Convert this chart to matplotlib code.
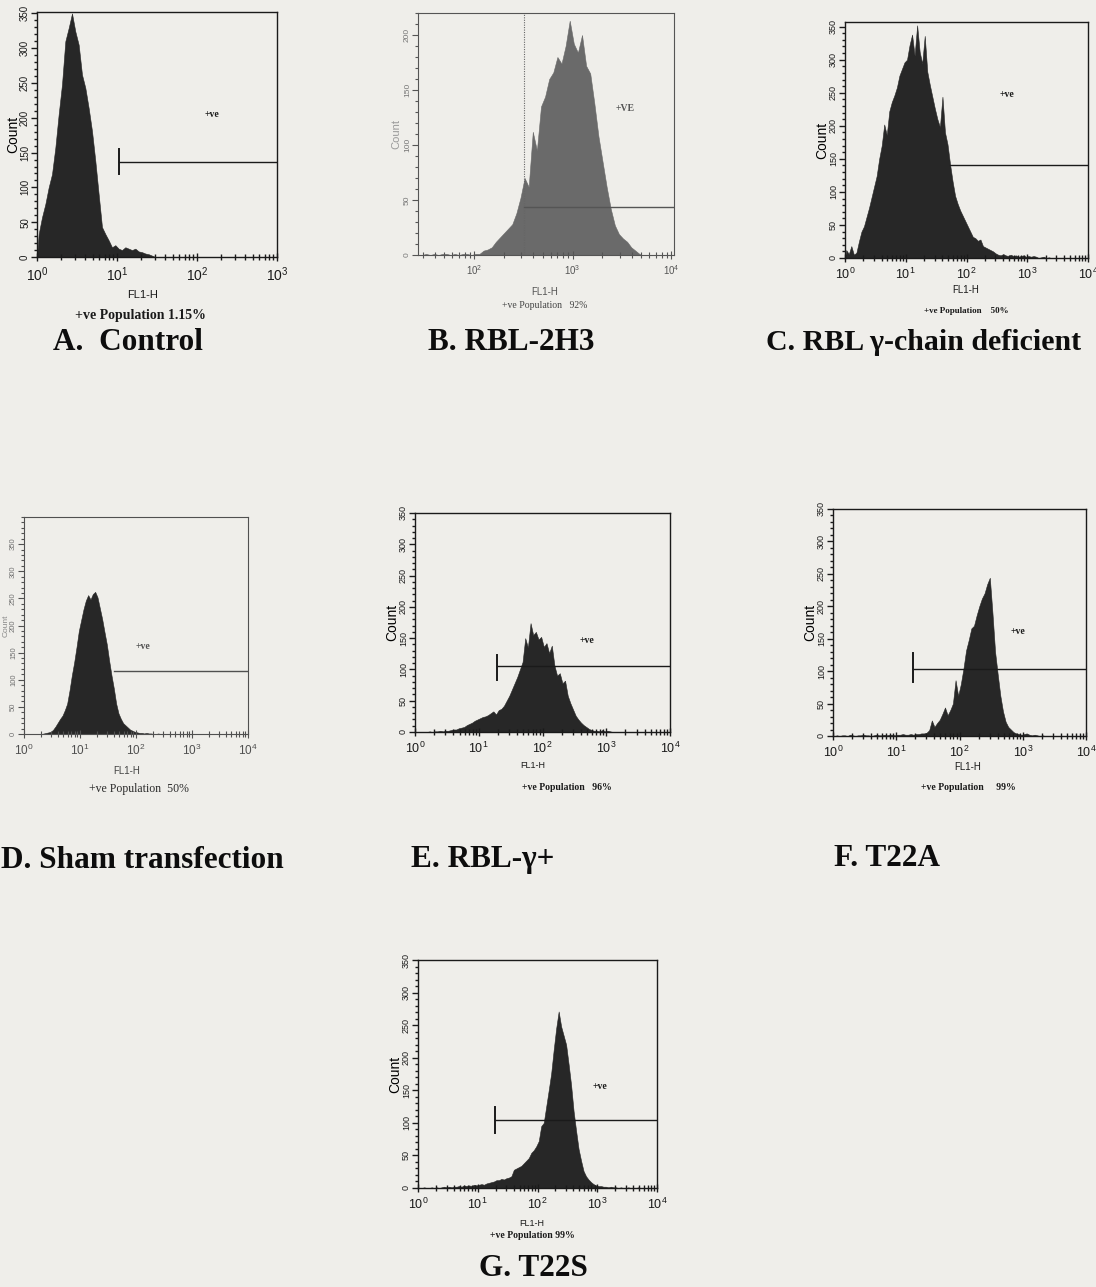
import numpy as np
import matplotlib
matplotlib.use("Agg")
import matplotlib.pyplot as plt
from matplotlib.ticker import FixedLocator, NullFormatter, LogLocator

plt.rcParams['font.family'] = ['Liberation Sans', 'DejaVu Sans']
plt.rcParams['mathtext.fontset'] = 'custom'
plt.rcParams['mathtext.rm'] = 'Liberation Sans'
plt.rcParams['mathtext.it'] = 'Liberation Sans'

# ---- Histogram data: counts per channel, 24 channels per log decade ----
BINS_PER_DECADE = 24

a_start = 0.0
a_counts = [33, 57, 76, 100, 119, 157, 205, 248, 310, 329, 350, 324, 305, 262,
            243, 214, 181, 138, 90, 43, 33, 24, 14, 17, 12, 10, 14, 12, 10, 12,
            8, 7, 5, 4, 2, 0]

b_start = 1.45
b_counts = [0, 1, 0, 1, 0, 1, 1, 0, 1, 0, 1, 1, 0, 1,
            1, 4, 5, 7, 12, 16, 20, 24, 28, 38, 52, 70, 62, 112, 95, 135, 144,
            160, 166, 180, 174, 190, 213, 192, 184, 200, 172, 165, 138, 108, 85,
            62, 42, 27, 19, 15, 12, 7, 4, 1]

c_start = 0.0
c_counts = [12, 6, 18, 5, 8, 25, 40, 48, 62, 76, 92, 108, 124, 150, 170, 202,
            186, 222, 236, 246, 258, 276, 286, 296, 300, 322, 338, 306, 352, 312,
            294, 336, 282, 262, 244, 226, 210, 198, 244, 190, 172, 142, 116, 94,
            82, 72, 64, 56, 48, 40, 32, 30, 26, 28, 18, 16, 14, 12, 10, 7, 5, 4,
            6, 4, 3, 5, 3, 4, 2, 3, 4, 2, 3, 2, 3, 2, 0, 1, 2, 0, 1, 0]

d_start = 0.0
d_counts = [0, 0, 0, 0, 0, 0, 0, 0, 1, 2, 3, 4, 8, 14, 21, 28, 34, 44, 56, 80,
            108, 132, 160, 190, 210, 230, 246, 256, 248, 258, 262, 252, 232, 212,
            188, 165, 135, 108, 84, 56, 38, 28, 20, 16, 12, 8, 6, 4, 3, 2, 2, 1,
            2, 1, 1, 0, 0, 1, 0]

e_start = 0.0
e_counts = [0, 0, 0, 0, 0, 1, 0, 1, 1, 2, 1, 2, 2, 3, 4, 4, 6, 7, 8, 11, 13,
            15, 18, 20, 22, 24, 25, 27, 30, 33, 28, 35, 37, 42, 50, 58, 68, 78,
            88, 100, 112, 150, 135, 174, 155, 160, 148, 152, 136, 142, 126, 138,
            106, 90, 94, 78, 82, 58, 46, 36, 26, 20, 15, 11, 8, 5, 3, 2, 2, 1, 3,
            1, 2, 1, 0]

f_start = 0.0
f_counts = [0, 1, 0, 1, 1, 0, 2, 1, 0, 1, 1, 2, 1, 1, 0, 1, 2, 1, 1, 2, 1, 2,
            2, 1, 2, 2, 3, 2, 2, 3, 2, 3, 3, 4, 4, 5, 9, 24, 14, 20, 25, 34, 44,
            32, 40, 50, 86, 62, 80, 104, 132, 148, 166, 170, 186, 200, 212, 220,
            234, 244, 190, 130, 95, 62, 38, 22, 14, 10, 6, 4, 3, 2, 3, 4, 2, 1,
            2, 1, 0, 1, 0]

g_start = 0.0
g_counts = [0, 0, 1, 0, 0, 1, 0, 1, 0, 1, 2, 1, 2, 1, 2, 2, 3, 2, 4, 3, 4, 3,
            5, 4, 5, 6, 5, 7, 8, 9, 10, 12, 12, 14, 13, 15, 16, 18, 28, 30, 32,
            34, 38, 42, 46, 54, 58, 64, 72, 95, 100, 125, 150, 176, 212, 245, 271,
            248, 234, 220, 190, 158, 118, 88, 60, 42, 26, 18, 13, 9, 6, 4, 3, 3,
            2, 2, 1, 2, 1, 1, 0, 1, 0, 0, 1, 0, 0, 0, 1, 0, 0]

# gate marker: (log10 start of gate, count level of bar, bar tick low, bar tick high)
a_gate = (1.025, 137, 119, 155)
b_gate = (2.51, 44, None, None)
c_gate = (1.73, 141, None, None)
d_gate = (1.60, 117, None, None)
e_gate = (1.29, 105, 83, 123)
f_gate = (1.27, 103, 84, 128)
g_gate = (1.29, 104, 84, 125)

# "+ve" label anchor (log10 FL1, count)
a_ve = (2.09, 205)
b_ve = (3.44, 133)
c_ve = (2.55, 247)
d_ve = (1.99, 162)
e_ve = (2.58, 147)
f_ve = (2.80, 161)
g_ve = (2.92, 156)

pop_texts = ["+ve Population 1.15%", "+ve Population   92%", "+ve Population    50%",
             "+ve Population  50%", "+ve Population   96%", "+ve Population     99%",
             "+ve Population 99%"]
panel_titles = ["A.  Control", "B. RBL-2H3", "C. RBL \u03b3-chain deficient",
                "D. Sham transfection", "E. RBL-\u03b3+", "F. T22A", "G. T22S"]

W, H = 1096, 1287
BG = '#efeeea'
fig = plt.figure(figsize=(W / 100, H / 100), dpi=100, facecolor=BG)


def box(l, t, r, b):
    return fig.add_axes([l / W, 1 - b / H, (r - l) / W, (b - t) / H])


def ftext(x, y, s, **kw):
    fig.text(x / W, 1 - y / H, s, ha='center', va='center', **kw)


def panel(rect, start, counts, xlo, xhi, ymax, ytop_tick, major_dec, gate, ve,
          fill='#272727', ink='#1a1a1a', ve_text='+ve',
          count_color='#1a1a1a', xfs=10, yfs=6.5, lw=1.0):
    ax = box(*rect)
    ax.set_facecolor('none')
    n = len(counts)
    # channel centres on the log axis, closed to the baseline at both ends
    centres = 10 ** (start + (np.arange(n) + 0.5) / BINS_PER_DECADE)
    xs = np.concatenate([[10 ** start], centres, [10 ** (start + n / BINS_PER_DECADE)]])
    ys = np.concatenate([[0], counts, [0]])
    ax.fill_between(xs, 0, ys, color=fill, linewidth=0.4, edgecolor=fill)
    ax.set_xscale('log')
    ax.set_xlim(10 ** xlo, 10 ** xhi)
    ax.set_ylim(0, ymax)
    for s in ax.spines.values():
        s.set_color(ink)
        s.set_linewidth(lw)
    ax.xaxis.set_major_locator(FixedLocator([10.0 ** d for d in major_dec]))
    ax.xaxis.set_minor_locator(LogLocator(base=10, subs=np.arange(2, 10), numticks=20))
    ax.xaxis.set_minor_formatter(NullFormatter())
    ax.set_xticklabels([r'$10^{%d}$' % d for d in major_dec])
    ax.yaxis.set_major_locator(FixedLocator(np.arange(0, ytop_tick + 1, 50)))
    ax.yaxis.set_minor_locator(FixedLocator(np.arange(0, ymax + 1, 10)))
    ax.set_yticklabels([str(v) for v in np.arange(0, ytop_tick + 1, 50)],
                       rotation=90, va='center', fontsize=yfs, color=count_color)
    ax.tick_params(axis='x', which='major', direction='inout', length=6, width=lw,
                   color=ink, labelsize=xfs, labelcolor=ink, pad=3)
    ax.tick_params(axis='x', which='minor', direction='inout', length=4, width=lw,
                   color=ink)
    ax.tick_params(axis='y', which='major', direction='out', length=4, width=lw,
                   color=ink, pad=1)
    ax.tick_params(axis='y', which='minor', direction='out', length=2.5, width=lw,
                   color=ink)
    g0, gy, glo, ghi = gate
    ax.plot([10 ** g0, 10 ** xhi], [gy, gy], color=ink, lw=1.0)
    if glo is not None:
        ax.plot([10 ** g0, 10 ** g0], [glo, ghi], color=ink, lw=1.4)
    ax.text(10 ** ve[0], ve[1], ve_text, fontsize=7, color=ink,
            family='Liberation Serif', fontweight='bold', ha='left', va='center')
    return ax


serif_b = dict(family='Liberation Serif', fontweight='bold')
TITLE_FS = 22.5

# A. Control
axA = panel((37, 12, 277, 257), a_start, a_counts, 0, 3, 352, 350, [0, 1, 2, 3],
            a_gate, a_ve, yfs=7)
axA.set_ylabel('Count', fontsize=10, labelpad=0)
ftext(143, 295, 'FL1-H', fontsize=8, color='#1a1a1a')
ftext(140, 316, pop_texts[0], fontsize=10, color='#1a1a1a', **serif_b)
ftext(128, 343, panel_titles[0], fontsize=TITLE_FS, color='#0d0d0d', **serif_b)

# B. RBL-2H3
axB = panel((418, 13, 674, 255), b_start, b_counts, 1.43, 4.03, 220, 200, [2, 3, 4],
            b_gate, b_ve, fill='#6a6a6a', ink='#555555', ve_text='+VE',
            count_color='#777777', xfs=7, yfs=6, lw=0.8)
axB.axvline(10 ** b_gate[0], color='#666666', lw=0.8, ls=(0, (1, 1.2)))
axB.set_ylabel('Count', fontsize=8, color='#9a9a9a', labelpad=2)
ftext(545, 292, 'FL1-H', fontsize=7, color='#555555')
ftext(545, 306, pop_texts[1], fontsize=7, color='#444444', family='Liberation Serif')
ftext(511, 343, panel_titles[1], fontsize=TITLE_FS, color='#0d0d0d', **serif_b)

# C. RBL gamma-chain deficient
axC = panel((845, 22, 1088, 258), c_start, c_counts, 0, 4, 357, 350, [0, 1, 2, 3, 4],
            c_gate, c_ve, xfs=9)
axC.set_ylabel('Count', fontsize=10, labelpad=0)
ftext(966, 290, 'FL1-H', fontsize=7, color='#1a1a1a')
ftext(966, 311, pop_texts[2], fontsize=6.5, color='#1a1a1a', **serif_b)
ftext(924, 342, panel_titles[2], fontsize=TITLE_FS - 1, color='#0d0d0d', **serif_b)

# D. Sham transfection
axD = panel((24, 517, 248, 734), d_start, d_counts, 0, 4, 400, 350, [0, 1, 2, 3, 4],
            d_gate, d_ve, ink='#505050', count_color='#707070', xfs=8.5, yfs=5.5,
            lw=0.8)
axD.set_ylabel('Count', fontsize=6, color='#8a8a8a', labelpad=0)
ftext(127, 771, 'FL1-H', fontsize=7, color='#444444')
ftext(139, 789, pop_texts[3], fontsize=8.5, color='#2a2a2a', family='Liberation Serif')
ftext(142, 860, panel_titles[3], fontsize=TITLE_FS, color='#0d0d0d', **serif_b)

# E. RBL-gamma+
axE = panel((415, 513, 670, 732), e_start, e_counts, 0, 4, 350, 350, [0, 1, 2, 3, 4],
            e_gate, e_ve, xfs=9)
axE.set_ylabel('Count', fontsize=10, labelpad=0)
ftext(533, 766, 'FL1-H', fontsize=6.5, color='#1a1a1a')
ftext(567, 787, pop_texts[4], fontsize=7, color='#1a1a1a', **serif_b)
ftext(483, 860, panel_titles[4], fontsize=TITLE_FS, color='#0d0d0d', **serif_b)

# F. T22A
axF = panel((833, 509, 1086, 736), f_start, f_counts, 0, 4, 350, 350, [0, 1, 2, 3, 4],
            f_gate, f_ve, xfs=9)
axF.set_ylabel('Count', fontsize=10, labelpad=0)
ftext(968, 767, 'FL1-H', fontsize=7, color='#1a1a1a')
ftext(968, 787, pop_texts[5], fontsize=7, color='#1a1a1a', **serif_b)
ftext(887, 858, panel_titles[5], fontsize=TITLE_FS, color='#0d0d0d', **serif_b)

# G. T22S
axG = panel((418, 960, 657, 1188), g_start, g_counts, 0, 4, 350, 350, [0, 1, 2, 3, 4],
            g_gate, g_ve, xfs=9)
axG.set_ylabel('Count', fontsize=10, labelpad=0)
ftext(532, 1224, 'FL1-H', fontsize=6.5, color='#1a1a1a')
ftext(532, 1236, pop_texts[6], fontsize=7, color='#1a1a1a', **serif_b)
ftext(533, 1268, panel_titles[6], fontsize=TITLE_FS, color='#0d0d0d', **serif_b)

fig.savefig('out.png', dpi=100, facecolor=BG)
